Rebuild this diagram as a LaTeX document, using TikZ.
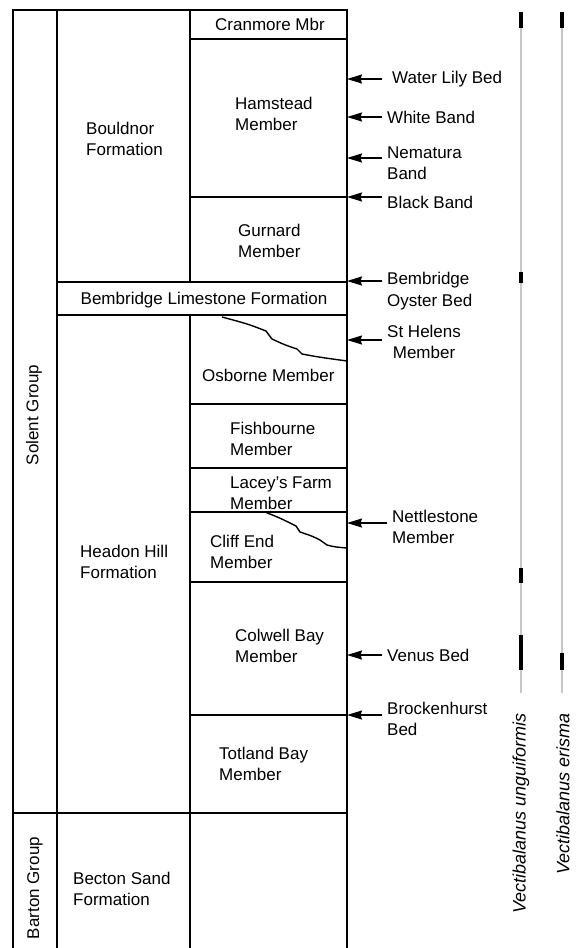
\documentclass[tikz,border=0pt]{standalone}
\usepackage{fontspec}
\setmainfont{Liberation Sans}
\usetikzlibrary{arrows.meta}
\definecolor{rangegray}{rgb}{0.78,0.78,0.78}

\begin{document}
\begin{tikzpicture}[x=1pt, y=-1pt,
every node/.style = {font=\fontsize{17}{21.5}\selectfont, inner sep=0pt},
  unit/.style = {anchor=west, align=left},
  bed/.style = {anchor=west, align=left, inner xsep=5pt},
  bedarrow/.style = {line width=1.3pt, -{Stealth[length=15pt, width=9pt, inset=1.5pt]}},
  rule/.style = {line width=1.4pt},
  taxon/.style = {rotate=90, anchor=east, font=\fontsize{18}{22}\selectfont\itshape},
  rangeline/.style = {rangegray, line width=2pt},
  occur/.style = {line width=3.2pt}
]
\useasboundingbox (0,0) rectangle (579,948);
% columns
\draw[rule] (13,948) -- (13,10) -- (347,10) -- (347,948);
\draw[rule] (57,10) -- (57,948);
\draw[rule] (190,10) -- (190,282);
\draw[rule] (190,315) -- (190,948);
% boundaries
\foreach \y in {39,197,404,468,512,582,715}
  \draw[rule] (190,\y) -- (347,\y);
\draw[rule] (57,282) -- (347,282);
\draw[rule] (57,315) -- (347,315);
\draw[rule] (13,813) -- (347,813);
% diachronous contacts
\draw[line width=1.4pt] (222,317) .. controls (248,324) .. (266,331) -- (272,339)
  .. controls (285,345) .. (297,349) -- (302,354) .. controls (318,357) .. (347,361);
\draw[line width=1.4pt] (265,512) .. controls (280,518) .. (296,526) -- (300,532)
  .. controls (312,536) .. (320,540) -- (327,545) .. controls (335,547) .. (347,548);

% groups
\node[rotate=90] (solent) at (34,415) {Solent Group};
\node[rotate=90] (barton) at (35,888) {Barton Group};
% formations
\node[unit] (bouldnor) at (86,139) {Bouldnor\\Formation};
\node (bembls) at (204,300) {Bembridge Limestone Formation};
\node[unit] (headon) at (80,562) {Headon Hill\\Formation};
\node[unit] (becton) at (73,889) {Becton Sand\\Formation};
% members
\node (cranmore) at (270,24) {Cranmore Mbr};
\node[unit] (hamstead) at (235,114) {Hamstead\\Member};
\node[unit] (gurnard) at (238,241) {Gurnard\\Member};
\node[unit] (osborne) at (202,375) {Osborne Member};
\node[unit] (fishbourne) at (230,439) {Fishbourne\\Member};
\node[unit] (lacey) at (230,493) {Lacey's Farm\\Member};
\node[unit] (cliffend) at (210,552) {Cliff End\\Member};
\node[unit] (colwell) at (235,646) {Colwell Bay\\Member};
\node[unit] (totland) at (219,764) {Totland Bay\\Member};

% marker beds
\coordinate (tWL) at (347,79);
\coordinate (tWB) at (347,117);
\coordinate (tNB) at (347,158);
\coordinate (tBB) at (347,197);
\coordinate (tBO) at (347,281);
\coordinate (tSH) at (347,340);
\coordinate (tNM) at (347,523);
\coordinate (tVB) at (347,655);
\coordinate (tBH) at (347,715);
\node[bed, inner xsep=10pt] (waterlily) at (382,79) {Water Lily Bed};
\node[bed] (whiteband) at (382,117) {White Band};
\node[bed] (nematura) at (382,163) {Nematura\\Band};
\node[bed] (blackband) at (382,202) {Black Band};
\node[bed] (oyster) at (382,291) {Bembridge\\Oyster Bed};
\node[bed, align=center] (sthelens) at (382,342) {St Helens\\Member};
\node[bed] (nettlestone) at (387,527) {Nettlestone\\Member};
\node[bed] (venus) at (382,655) {Venus Bed};
\node[bed] (brockenhurst) at (382,719) {Brockenhurst\\Bed};
\draw[bedarrow] (waterlily.west |- tWL) -- (tWL);
\draw[bedarrow] (whiteband.west |- tWB) -- (tWB);
\draw[bedarrow] (nematura.west |- tNB) -- (tNB);
\draw[bedarrow] (blackband.west |- tBB) -- (tBB);
\draw[bedarrow] (oyster.west |- tBO) -- (tBO);
\draw[bedarrow] (sthelens.west |- tSH) -- (tSH);
\draw[bedarrow] (nettlestone.west |- tNM) -- (tNM);
\draw[bedarrow] (venus.west |- tVB) -- (tVB);
\draw[bedarrow] (brockenhurst.west |- tBH) -- (tBH);

% ranges
\draw[rangeline] (521,12) -- (521,693);
\draw[rangeline] (562,12) -- (562,693);
\foreach \a/\b in {12/28, 272/283, 568/583, 635/670}
  \draw[occur] (521,\a) -- (521,\b);
\foreach \a/\b in {12/28, 653/670}
  \draw[occur] (562,\a) -- (562,\b);
\node[taxon] (unguiformis) at (521,713) {Vectibalanus unguiformis};
\node[taxon] (erisma) at (563,713) {Vectibalanus erisma};
\end{tikzpicture}
\end{document}
